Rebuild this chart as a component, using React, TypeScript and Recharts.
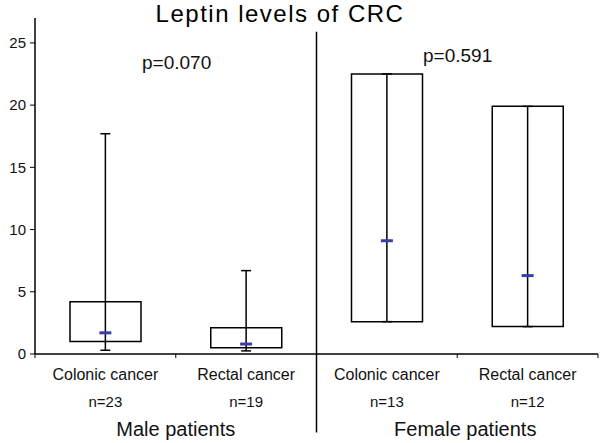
import { ComposedChart, Bar, Line, ErrorBar, XAxis, YAxis, ReferenceLine } from 'recharts'

const categories = ['Colonic cancer', 'Rectal cancer', 'Colonic cancer', 'Rectal cancer']
const counts = ['n=23', 'n=19', 'n=13', 'n=12']
const groups = ['Male patients', 'Female patients']
const boxLow = [1.0, 0.5, 2.6, 2.2]
const boxHigh = [4.2, 2.1, 22.5, 19.9]
const whiskerLow = [0.3, 0.25, 2.6, 2.2]
const whiskerHigh = [17.7, 6.7, 22.5, 19.9]
const medians = [1.7, 0.8, 9.1, 6.3]
const yTicks = [0, 5, 10, 15, 20, 25]
const boundaryTicks = [0, 1, 2, 3, 4]
const groupTicks = [1, 3]

const data = categories.map((name, i) => ({
  idx: i,
  pos: i + 0.5,
  name,
  box: [boxLow[i], boxHigh[i]],
  median: medians[i],
  err: [medians[i] - whiskerLow[i], whiskerHigh[i] - medians[i]],
}))

const font = '"Liberation Sans", Arial, sans-serif'

function CatTick({ x, y, payload }: any) {
  const i = payload.value
  return (
    <g fontFamily={font} fill="#111">
      <text x={x} y={y + 20} textAnchor="middle" fontSize={16}>{categories[i]}</text>
      <text x={x} y={y + 47} textAnchor="middle" fontSize={15}>{counts[i]}</text>
    </g>
  )
}

function GroupTick({ x, y, payload }: any) {
  const i = groupTicks.indexOf(payload.value)
  return (
    <text x={x + (i === 1 ? 8 : 0)} y={y + 26} textAnchor="middle" fontSize={20} fontFamily={font} fill="#111">
      {groups[i]}
    </text>
  )
}

function MedianDot({ cx, cy }: any) {
  if (cx == null || cy == null) return null
  return <rect x={cx - 6} y={cy - 1.5} width={12} height={3} fill="#3a3ea6" />
}

export default function App() {
  return (
    <div style={{ position: 'absolute', left: 0, top: 0, background: '#fff' }}>
      <ComposedChart
        width={600}
        height={443}
        data={data}
        margin={{ top: 18, right: 2, bottom: 3, left: 0 }}
      >
        <XAxis
          xAxisId="a_grid"
          type="number"
          dataKey="pos"
          domain={[0, 4]}
          allowDataOverflow
          ticks={boundaryTicks}
          tick={() => <g />}
          tickSize={4}
          height={6}
          stroke="#000"
          axisLine={{ stroke: '#000', strokeWidth: 1.5 }}
        />
        <XAxis
          xAxisId="b_cat"
          dataKey="idx"
          axisLine={false}
          tickLine={false}
          tickSize={0}
          tickMargin={0}
          height={50}
          tick={<CatTick />}
          interval={0}
        />
        <XAxis
          xAxisId="c_group"
          type="number"
          dataKey="pos"
          domain={[0, 4]}
          allowDataOverflow
          ticks={groupTicks}
          axisLine={false}
          tickLine={false}
          tickSize={0}
          tickMargin={0}
          height={30}
          tick={<GroupTick />}
        />
        <YAxis
          domain={[0, 27]}
          ticks={yTicks}
          width={35}
          tickSize={5}
          tickMargin={4}
          stroke="#000"
          axisLine={{ stroke: '#000', strokeWidth: 1.5 }}
          tick={{ fontSize: 15, fontFamily: font, fill: '#111' }}
        />
        <ReferenceLine
          xAxisId="a_grid"
          segment={[{ x: 2, y: 25.9 }, { x: 2, y: -6.3 }]}
          ifOverflow="visible"
          stroke="#000"
          strokeWidth={1.5}
        />
        <Bar
          xAxisId="b_cat"
          dataKey="box"
          barSize={71}
          fill="#fff"
          stroke="#000"
          strokeWidth={1.5}
          isAnimationActive={false}
        />
        <Line
          xAxisId="b_cat"
          dataKey="median"
          stroke="none"
          dot={<MedianDot />}
          activeDot={false}
          isAnimationActive={false}
        >
          <ErrorBar dataKey="err" direction="y" width={5} stroke="#000" strokeWidth={1.5} />
        </Line>
        <text x={280} y={22} textAnchor="middle" fontSize={24} letterSpacing={1.5} fontFamily={font} fill="#000">
          Leptin levels of CRC
        </text>
        <text x={142} y={69} fontSize={19} fontFamily={font} fill="#111">p=0.070</text>
        <text x={423} y={62} fontSize={19} fontFamily={font} fill="#111">p=0.591</text>
      </ComposedChart>
    </div>
  )
}
